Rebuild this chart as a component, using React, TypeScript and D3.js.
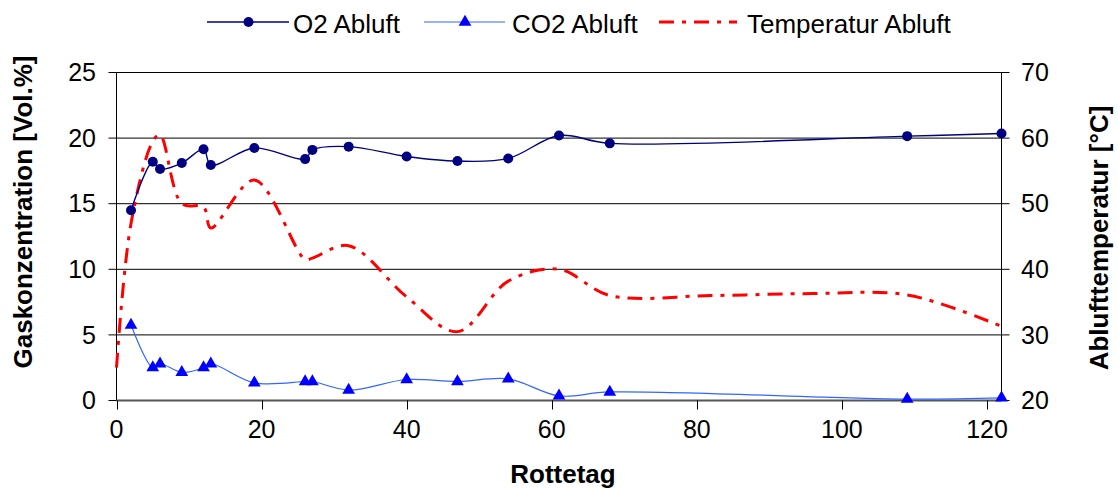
import React, { useEffect, useRef } from "react";
import * as d3 from "d3";

// Rottetag der Messungen
const days = [2, 5, 6, 9, 12, 13, 19, 26, 27, 32, 40, 47, 54, 61, 68, 109, 122];
const o2 = [14.5, 18.2, 17.65, 18.1, 19.15, 17.95, 19.25, 18.4, 19.1, 19.35, 18.6, 18.25, 18.45, 20.2, 19.6, 20.15, 20.35];
const co2 = [5.75, 2.5, 2.8, 2.15, 2.5, 2.8, 1.35, 1.45, 1.45, 0.8, 1.6, 1.45, 1.65, 0.35, 0.65, 0.1, 0.2];
const tempDays = [0, 2, 5, 6, 9, 12, 13, 19, 26, 27, 32, 40, 47, 54, 61, 68, 82, 96, 109, 122];
const temp = [25, 47, 59.5, 60.5, 50, 49.5, 46.3, 53.6, 41.5, 41.7, 43.6, 35.8, 30.5, 38.2, 40, 36, 36, 36.3, 36.1, 31.3];

const xTicks = [0, 20, 40, 60, 80, 100, 120];
const gasTicks = [0, 5, 10, 15, 20, 25];
const tempTicks = [20, 30, 40, 50, 60, 70];

const FONT = "'Liberation Sans', Arial, sans-serif";

const App = () => {
  const ref = useRef(null);

  useEffect(() => {
    const svg = d3.select(ref.current);
    svg.selectAll("*").remove();

    const left = 116.5, right = 1001.5, top = 72.5, bottom = 400.5;
    const x = d3.scaleLinear().domain([0, 122]).range([left, right]);
    const yGas = d3.scaleLinear().domain([0, 25]).range([bottom, top]);
    const yTemp = d3.scaleLinear().domain([20, 70]).range([bottom, top]);

    // Gitterlinien
    svg.append("g")
      .selectAll("line")
      .data(gasTicks.slice(1))
      .join("line")
      .attr("x1", left).attr("x2", right)
      .attr("y1", (d) => yGas(d)).attr("y2", (d) => yGas(d))
      .attr("stroke", "#000").attr("stroke-width", 1);

    // Achsen
    const axes = svg.append("g").attr("stroke", "#000").attr("stroke-width", 1);
    axes.append("line").attr("x1", left).attr("x2", left).attr("y1", top).attr("y2", bottom);
    axes.append("line").attr("x1", right).attr("x2", right).attr("y1", top).attr("y2", bottom);
    axes.append("line").attr("x1", left).attr("x2", right).attr("y1", bottom).attr("y2", bottom)
      .attr("stroke", "#555").attr("stroke-width", 2);

    axes.selectAll(".lt").data(gasTicks).join("line").attr("class", "lt")
      .attr("x1", left - 8).attr("x2", left)
      .attr("y1", (d) => yGas(d)).attr("y2", (d) => yGas(d));
    axes.selectAll(".rt").data(tempTicks).join("line").attr("class", "rt")
      .attr("x1", right).attr("x2", right + 8)
      .attr("y1", (d) => yTemp(d)).attr("y2", (d) => yTemp(d));
    axes.selectAll(".xt").data(xTicks).join("line").attr("class", "xt")
      .attr("x1", (d) => Math.round(x(d)) + 0.5).attr("x2", (d) => Math.round(x(d)) + 0.5)
      .attr("y1", bottom).attr("y2", bottom + 9);

    const labels = svg.append("g").style("font-family", FONT).style("font-size", "25px").attr("fill", "#000");
    labels.selectAll(".ll").data(gasTicks).join("text").attr("class", "ll")
      .attr("x", 96).attr("y", (d) => yGas(d)).attr("dy", "0.35em")
      .attr("text-anchor", "end").text((d) => d);
    labels.selectAll(".rl").data(tempTicks).join("text").attr("class", "rl")
      .attr("x", 1021).attr("y", (d) => yTemp(d)).attr("dy", "0.35em")
      .attr("text-anchor", "start").text((d) => d);
    labels.selectAll(".xl").data(xTicks).join("text").attr("class", "xl")
      .attr("x", (d) => x(d)).attr("y", 438)
      .attr("text-anchor", "middle").text((d) => d);

    // Achsentitel
    const titles = svg.append("g").style("font-family", FONT).style("font-size", "26px")
      .style("font-weight", "bold").attr("text-anchor", "middle");
    titles.append("text").attr("transform", "translate(32,212) rotate(-90)").text("Gaskonzentration [Vol.%]");
    titles.append("text").attr("transform", "translate(1108,238) rotate(-90)").text("Ablufttemperatur [°C]");
    titles.append("text").attr("x", 563).attr("y", 483).text("Rottetag");

    // Temperatur
    const tempLine = d3.line()
      .x((d) => x(d[0])).y((d) => yTemp(d[1]))
      .curve(d3.curveCatmullRom.alpha(0.5));
    svg.append("path")
      .attr("d", tempLine(tempDays.map((d, i) => [d, temp[i]])))
      .attr("fill", "none").attr("stroke", "#ff0000").attr("stroke-width", 3)
      .attr("stroke-dasharray", "15,8,4,8");

    const gasLine = d3.line()
      .x((d) => x(d[0])).y((d) => yGas(d[1]))
      .curve(d3.curveCatmullRom.alpha(0.5));

    // CO2
    svg.append("path")
      .attr("d", gasLine(days.map((d, i) => [d, co2[i]])))
      .attr("fill", "none").attr("stroke", "#3366ff").attr("stroke-width", 1.2);
    const tri = d3.symbol().type(d3.symbolTriangle).size(70);
    svg.append("g").selectAll("path").data(days).join("path")
      .attr("d", tri())
      .attr("transform", (d, i) => `translate(${x(d)},${yGas(co2[i])})`)
      .attr("fill", "#0000ff");

    // O2
    svg.append("path")
      .attr("d", gasLine(days.map((d, i) => [d, o2[i]])))
      .attr("fill", "none").attr("stroke", "#000080").attr("stroke-width", 1.4);
    svg.append("g").selectAll("circle").data(days).join("circle")
      .attr("cx", (d) => x(d)).attr("cy", (d, i) => yGas(o2[i]))
      .attr("r", 5).attr("fill", "#000080");

    // Legende
    const lg = svg.append("g").style("font-family", FONT).style("font-size", "26px");
    lg.append("line").attr("x1", 207).attr("x2", 289).attr("y1", 22).attr("y2", 22)
      .attr("stroke", "#000080").attr("stroke-width", 1.4);
    lg.append("circle").attr("cx", 248.5).attr("cy", 22).attr("r", 5).attr("fill", "#000080");
    lg.append("text").attr("x", 293).attr("y", 33).text("O2 Abluft");

    lg.append("line").attr("x1", 424).attr("x2", 505).attr("y1", 22).attr("y2", 22)
      .attr("stroke", "#3366ff").attr("stroke-width", 1.2);
    lg.append("path").attr("d", tri()).attr("transform", "translate(465,22)").attr("fill", "#0000ff");
    lg.append("text").attr("x", 512).attr("y", 33).text("CO2 Abluft");

    lg.append("line").attr("x1", 659).attr("x2", 737).attr("y1", 22).attr("y2", 22)
      .attr("stroke", "#ff0000").attr("stroke-width", 3).attr("stroke-dasharray", "15,8,4,8");
    lg.append("text").attr("x", 747).attr("y", 33).text("Temperatur Abluft");
  }, []);

  return (
    <div style={{ position: "absolute", left: 0, top: 0 }}>
      <svg ref={ref} width={1118} height={488} style={{ display: "block", background: "#fff" }}></svg>
    </div>
  );
};

export default App;
